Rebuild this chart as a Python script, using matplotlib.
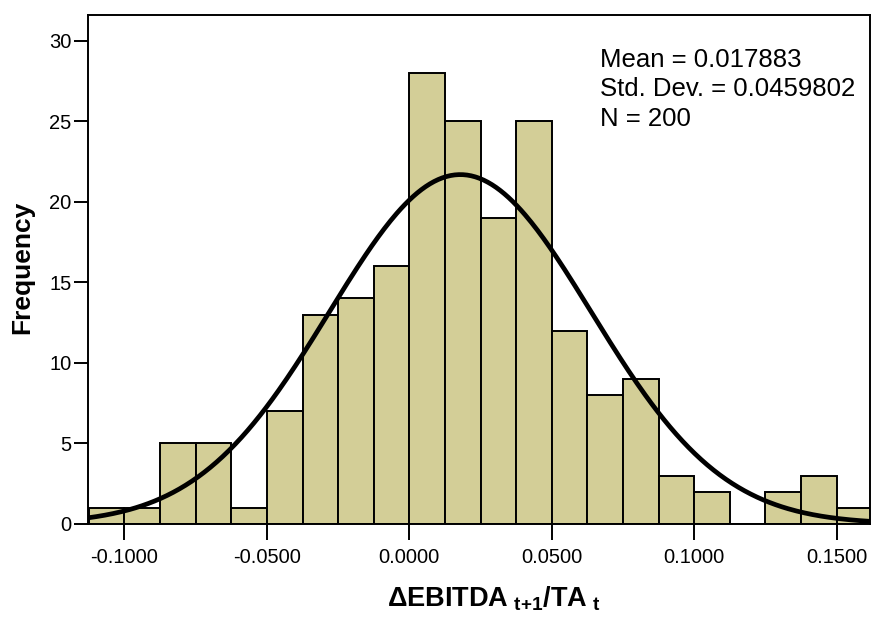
import numpy as np
import matplotlib
matplotlib.use("Agg")
import matplotlib.pyplot as plt

plt.rcParams['font.family'] = ['Liberation Sans', 'DejaVu Sans']
plt.rcParams['mathtext.fontset'] = 'custom'
plt.rcParams['mathtext.rm'] = 'Liberation Sans'
plt.rcParams['mathtext.bf'] = 'Liberation Sans:bold'

# histogram bins (width 0.0125) and counts
bin_start = -0.1125
bin_width = 0.0125
counts = [1, 1, 5, 5, 1, 7, 13, 14, 16, 28, 25, 19, 25, 12, 8, 9, 3, 2, 0, 2, 3, 1]
mean = 0.017883
std = 0.0459802
n = 200

xticks = [-0.1, -0.05, 0.0, 0.05, 0.1, 0.15]
xticklabels = ["-0.1000", "-0.0500", "0.0000", "0.0500", "0.1000", "0.1500"]
yticks = [0, 5, 10, 15, 20, 25, 30]

edges = bin_start + bin_width * np.arange(len(counts) + 1)

fig = plt.figure(figsize=(8.71, 6.19), dpi=100)
ax = fig.add_axes([0.101, 0.1535, 0.8979, 0.8223])

ax.bar(edges[:-1], counts, width=bin_width, align='edge',
       color='#d3ce97', edgecolor='black', linewidth=1.4, zorder=2)

# fitted normal curve scaled to counts
xs = np.linspace(-0.12, 0.17, 400)
ys = n * bin_width * np.exp(-0.5 * ((xs - mean) / std) ** 2) / (std * np.sqrt(2 * np.pi))
ax.plot(xs, ys, color='black', linewidth=3.4, zorder=3)

ax.set_xlim(-0.1128, 0.1617)
ax.set_ylim(0, 31.6)
ax.set_xticks(xticks)
ax.set_xticklabels(xticklabels)
ax.set_yticks(yticks)
ax.tick_params(axis='x', direction='out', length=11.5, width=1.4, labelsize=14.5, pad=6)
ax.tick_params(axis='y', direction='out', length=10, width=1.4, labelsize=14.5, pad=2)
for s in ax.spines.values():
    s.set_linewidth(1.4)

ax.text(0.655, 0.936, "Mean = 0.017883\nStd. Dev. = 0.0459802\nN = 200",
        transform=ax.transAxes, ha='left', va='top', fontsize=18.5, linespacing=1.3)

fig.text(22 / 871, 0.568, "Frequency", rotation=90, ha='center', va='center',
         fontsize=19, fontweight='bold')
fig.text(0.567, 0.0194, r'$\mathbf{\Delta EBITDA}_{\mathbf{\ t{+}1}}\mathbf{/TA}_{\mathbf{\ t}}$',
         ha='center', va='baseline', fontsize=19.5)

fig.savefig("out.png", dpi=100)
